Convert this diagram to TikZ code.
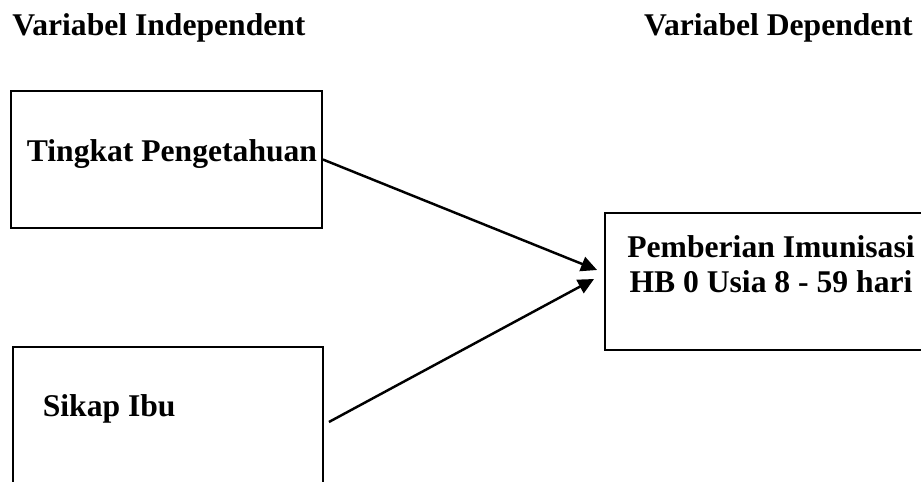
\documentclass[tikz,border=0pt]{standalone}
\usepackage{fontspec}
\setmainfont{Liberation Serif}
\usetikzlibrary{arrows.meta}

\begin{document}
\begin{tikzpicture}[x=0.02cm, y=0.02cm, font=\fontsize{18pt}{19.9pt}\selectfont\bfseries,
	kasten/.style={draw, line width=1.1pt, minimum width=6.22cm, minimum height=2.74cm, inner sep=0pt},
	beschrift/.style={inner sep=0pt, anchor=base west},
	pfeil/.style={line width=1.4pt, -{Triangle[length=0.32cm, width=0.3cm]}}]
	% Gesamtgröße
	\def\W{921}   % Breite
	\def\H{481}   % Höhe
	\clip (0,0) rectangle (\W,\H);
	
	% Überschriften
	\node[beschrift] (indep) at (12,445) {Variabel Independent};
	\node[beschrift, anchor=base east] (dep) at (913,445) {Variabel Dependent};
	
	% Kästen (rechts und unten abgeschnitten)
	\node[kasten] (wissen) at (166.5,321.5) {};
	\node[kasten, minimum width=6.2cm] (sikap) at (168,65.5) {};
	\node[kasten, minimum width=6.6cm] (imun) at (770,199.5) {};
	
	% Texte in den Kästen
	\node[beschrift] (twissen) at (26.5,319) {Tingkat Pengetahuan};
	\node[beschrift] (tsikap) at (42.5,65) {Sikap Ibu};
	\node[align=center, anchor=base, inner sep=0pt] (timun) at (771,189)
	{Pemberian Imunisasi\\HB 0 Usia 8 - 59 hari};
	
	% Pfeile
	\draw[pfeil] (wissen.east) -- ([shift={(-7,11.5)}]imun.west);
	\draw[pfeil] ([shift={(5,-6.5)}]sikap.east) -- ([shift={(-10,2.5)}]imun.west);
\end{tikzpicture}
\end{document}
